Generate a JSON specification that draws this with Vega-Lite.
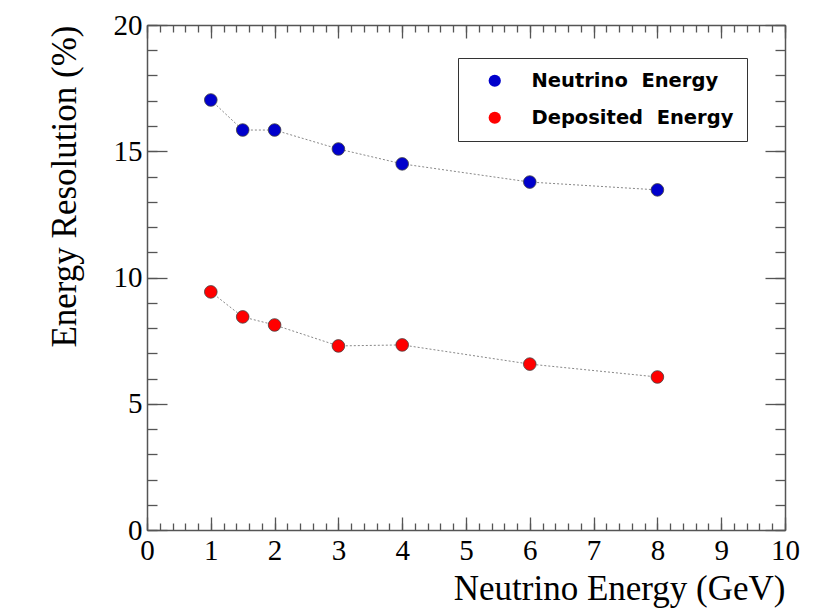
{
  "$schema": "https://vega.github.io/schema/vega-lite/v6.json",
  "width": 638,
  "height": 505,
  "autosize": {"type": "none"},
  "padding": {"left": 147, "top": 25, "right": 34, "bottom": 84},
  "background": "white",
  "config": {
    "view": {"stroke": null},
    "axis": {
      "grid": false,
      "domainColor": "#555555",
      "domainWidth": 1.5,
      "tickColor": "#555555",
      "tickWidth": 1.3,
      "labelFont": "Liberation Serif",
      "labelFontSize": 29,
      "labelColor": "black",
      "labelFlush": false,
      "labelOverlap": false,
      "titleFont": "Liberation Serif",
      "titleFontSize": 35,
      "titleFontWeight": "normal",
      "titleColor": "black"
    }
  },
  "data": {
    "values": [
      {"E": 1, "res": 17.03, "series": "Neutrino\u00a0 Energy"},
      {"E": 1.5, "res": 15.84, "series": "Neutrino\u00a0 Energy"},
      {"E": 2, "res": 15.84, "series": "Neutrino\u00a0 Energy"},
      {"E": 3, "res": 15.09, "series": "Neutrino\u00a0 Energy"},
      {"E": 4, "res": 14.5, "series": "Neutrino\u00a0 Energy"},
      {"E": 6, "res": 13.78, "series": "Neutrino\u00a0 Energy"},
      {"E": 8, "res": 13.47, "series": "Neutrino\u00a0 Energy"},
      {"E": 1, "res": 9.43, "series": "Deposited\u00a0 Energy"},
      {"E": 1.5, "res": 8.44, "series": "Deposited\u00a0 Energy"},
      {"E": 2, "res": 8.12, "series": "Deposited\u00a0 Energy"},
      {"E": 3, "res": 7.29, "series": "Deposited\u00a0 Energy"},
      {"E": 4, "res": 7.33, "series": "Deposited\u00a0 Energy"},
      {"E": 6, "res": 6.57, "series": "Deposited\u00a0 Energy"},
      {"E": 8, "res": 6.06, "series": "Deposited\u00a0 Energy"}
    ]
  },
  "layer": [
    {
      "mark": {"type": "line", "stroke": "#888888", "strokeWidth": 1, "strokeDash": [2, 2]},
      "encoding": {
        "x": {"field": "E", "type": "quantitative", "scale": {"domain": [0, 10], "nice": false, "zero": false},
          "axis": {"orient": "bottom", "tickCount": 10, "tickSize": -13, "labelPadding": 19, "title": "Neutrino Energy (GeV)", "titleAnchor": "end", "titlePadding": 6}},
        "y": {"field": "res", "type": "quantitative", "scale": {"domain": [0, 20], "nice": false, "zero": false},
          "axis": {"orient": "left", "tickCount": 4, "tickSize": -20, "labelPadding": 25, "title": "Energy Resolution (%)", "titleAnchor": "end", "titlePadding": 31}},
        "detail": {"field": "series"}
      }
    },
    {
      "mark": {"type": "circle", "size": 160, "opacity": 1, "stroke": "#444444", "strokeWidth": 0.8},
      "encoding": {
        "x": {"field": "E", "type": "quantitative",
          "axis": {"orient": "bottom", "tickCount": 50, "tickSize": -7, "labels": false, "domain": false, "title": null}},
        "y": {"field": "res", "type": "quantitative",
          "axis": {"orient": "left", "tickCount": 20, "tickSize": -10, "labels": false, "domain": false, "title": null}},
        "color": {"field": "series", "type": "nominal",
          "scale": {"domain": ["Neutrino\u00a0 Energy", "Deposited\u00a0 Energy"], "range": ["#0000cc", "#ff0000"]},
          "legend": {"title": null, "orient": "none", "legendX": 311, "legendY": 33, "padding": 13,
            "strokeColor": "#333333", "fillColor": "white", "symbolType": "circle", "symbolSize": 150,
            "symbolStrokeWidth": 0, "symbolOffset": 14, "labelOffset": 27, "labelFont": "DejaVu Sans",
            "labelFontWeight": "bold", "labelFontSize": 19.5, "labelColor": "black", "labelLimit": 400, "rowPadding": 16}}
      }
    },
    {
      "mark": {"type": "point", "opacity": 0},
      "encoding": {
        "x": {"field": "E", "type": "quantitative",
          "axis": {"orient": "top", "tickCount": 10, "tickSize": -13, "labels": false, "title": null}},
        "y": {"field": "res", "type": "quantitative",
          "axis": {"orient": "right", "tickCount": 4, "tickSize": -20, "labels": false, "title": null}}
      }
    },
    {
      "mark": {"type": "point", "opacity": 0},
      "encoding": {
        "x": {"field": "E", "type": "quantitative",
          "axis": {"orient": "top", "tickCount": 50, "tickSize": -7, "labels": false, "domain": false, "title": null}},
        "y": {"field": "res", "type": "quantitative",
          "axis": {"orient": "right", "tickCount": 20, "tickSize": -10, "labels": false, "domain": false, "title": null}}
      }
    }
  ],
  "resolve": {"axis": {"x": "independent", "y": "independent"}}
}
